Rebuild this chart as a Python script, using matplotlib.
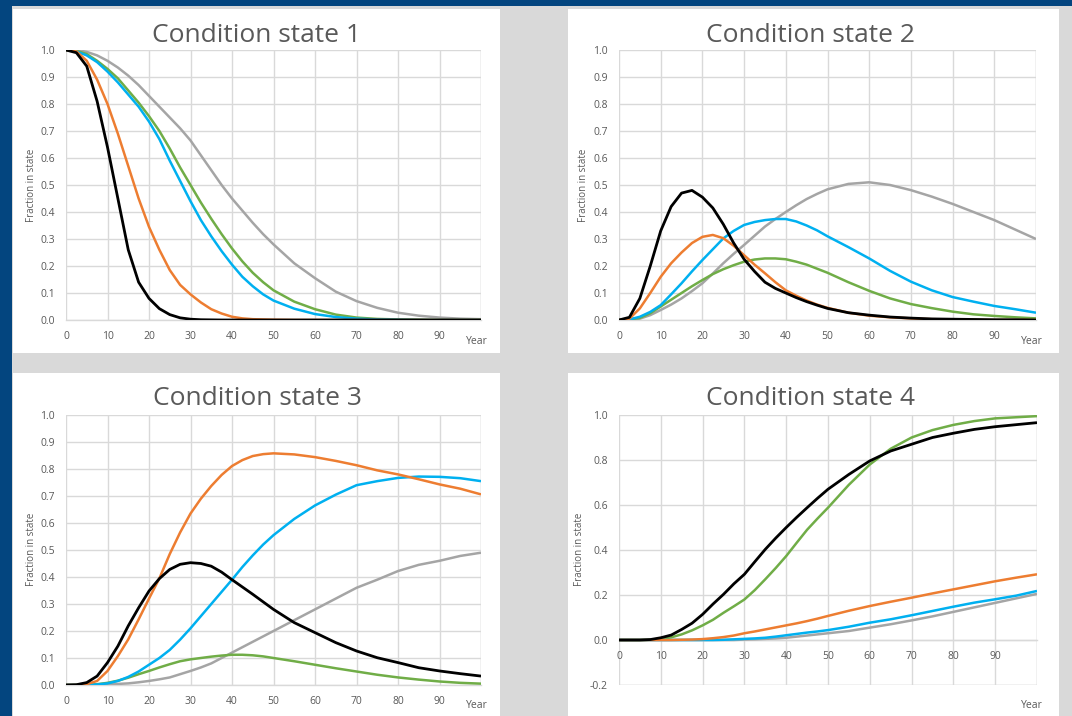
import numpy as np
import matplotlib.pyplot as plt
from matplotlib.patches import Rectangle

plt.rcParams['font.family'] = ['Open Sans', 'DejaVu Sans']

# Years (shared x axis)
years = [0, 2.5, 5, 7.5, 10, 12.5, 15, 17.5, 20, 22.5, 25, 27.5, 30,
         32.5, 35, 37.5, 40, 42.5, 45, 47.5, 50,
         55, 60, 65, 70, 75, 80, 85, 90, 95, 100]

# Condition state 1
cs1_black = [1.0, 0.99, 0.94, 0.81, 0.64, 0.45, 0.26, 0.14, 0.08, 0.042, 0.02, 0.008, 0.003,
             0.001, 0.0005, 0, 0, 0, 0, 0, 0,
             0, 0, 0, 0, 0, 0, 0, 0, 0, 0]
cs1_orange = [1.0, 0.995, 0.96, 0.89, 0.80, 0.69, 0.57, 0.45, 0.345, 0.26, 0.185, 0.13, 0.095,
              0.065, 0.04, 0.024, 0.012, 0.006, 0.003, 0.002, 0.001,
              0, 0, 0, 0, 0, 0, 0, 0, 0, 0]
cs1_blue = [1.0, 0.995, 0.98, 0.955, 0.92, 0.88, 0.835, 0.79, 0.735, 0.67, 0.59, 0.515, 0.44,
            0.37, 0.31, 0.255, 0.205, 0.16, 0.125, 0.095, 0.072,
            0.042, 0.022, 0.011, 0.005, 0.002, 0.001, 0, 0, 0, 0]
cs1_green = [1.0, 0.997, 0.985, 0.96, 0.93, 0.895, 0.85, 0.805, 0.755, 0.70, 0.635, 0.565, 0.50,
             0.435, 0.375, 0.318, 0.265, 0.217, 0.175, 0.14, 0.11,
             0.068, 0.04, 0.02, 0.009, 0.004, 0.002, 0.001, 0, 0, 0]
cs1_gray = [1.0, 1.0, 0.993, 0.98, 0.96, 0.935, 0.905, 0.87, 0.83, 0.79, 0.75, 0.71, 0.665,
            0.61, 0.555, 0.50, 0.45, 0.405, 0.36, 0.318, 0.28,
            0.21, 0.155, 0.105, 0.07, 0.045, 0.027, 0.016, 0.009, 0.005, 0.003]

# Condition state 2
cs2_black = [0, 0.01, 0.08, 0.2, 0.33, 0.42, 0.47, 0.48, 0.455, 0.415, 0.355, 0.285, 0.225,
             0.18, 0.14, 0.117, 0.10, 0.083, 0.068, 0.055, 0.043,
             0.027, 0.018, 0.011, 0.007, 0.004, 0.003, 0.002, 0.001, 0.001, 0]
cs2_orange = [0, 0.005, 0.043, 0.1, 0.16, 0.21, 0.25, 0.285, 0.308, 0.315, 0.303, 0.275, 0.24,
              0.205, 0.173, 0.14, 0.11, 0.09, 0.072, 0.057, 0.045,
              0.027, 0.016, 0.01, 0.006, 0.003, 0.002, 0.001, 0, 0, 0]
cs2_blue = [0, 0.002, 0.012, 0.03, 0.055, 0.095, 0.136, 0.18, 0.222, 0.262, 0.302, 0.33, 0.352,
            0.363, 0.37, 0.374, 0.374, 0.365, 0.35, 0.332, 0.31,
            0.27, 0.228, 0.182, 0.142, 0.11, 0.085, 0.068, 0.052, 0.04, 0.027]
cs2_green = [0, 0.002, 0.008, 0.025, 0.05, 0.075, 0.1, 0.125, 0.148, 0.17, 0.188, 0.203, 0.216,
             0.224, 0.228, 0.228, 0.225, 0.216, 0.205, 0.19, 0.175,
             0.14, 0.108, 0.08, 0.059, 0.044, 0.031, 0.021, 0.015, 0.01, 0.006]
cs2_gray = [0, 0.001, 0.005, 0.018, 0.037, 0.057, 0.08, 0.107, 0.136, 0.172, 0.21, 0.245, 0.278,
            0.312, 0.346, 0.374, 0.40, 0.425, 0.448, 0.467, 0.484,
            0.504, 0.51, 0.50, 0.481, 0.457, 0.43, 0.40, 0.37, 0.335, 0.30]

# Condition state 3
cs3_black = [0, 0.001, 0.009, 0.033, 0.083, 0.144, 0.219, 0.286, 0.348, 0.394, 0.428, 0.447, 0.453,
             0.45, 0.44, 0.418, 0.39, 0.363, 0.336, 0.308, 0.28,
             0.231, 0.194, 0.157, 0.126, 0.101, 0.083, 0.064, 0.052, 0.042, 0.033]
cs3_orange = [0, 0, 0.003, 0.015, 0.052, 0.107, 0.169, 0.243, 0.32, 0.395, 0.485, 0.565, 0.635,
              0.69, 0.737, 0.778, 0.811, 0.833, 0.848, 0.855, 0.858,
              0.854, 0.844, 0.83, 0.814, 0.795, 0.78, 0.762, 0.743, 0.727, 0.706]
cs3_blue = [0, 0, 0.001, 0.002, 0.006, 0.015, 0.03, 0.05, 0.075, 0.1, 0.13, 0.168, 0.21,
            0.255, 0.30, 0.345, 0.39, 0.437, 0.48, 0.52, 0.555,
            0.615, 0.665, 0.705, 0.74, 0.755, 0.767, 0.772, 0.771, 0.766, 0.755]
cs3_green = [0, 0, 0.001, 0.003, 0.008, 0.016, 0.027, 0.04, 0.052, 0.065, 0.077, 0.088, 0.095,
             0.1, 0.105, 0.109, 0.112, 0.112, 0.11, 0.106, 0.10,
             0.088, 0.075, 0.062, 0.05, 0.038, 0.028, 0.02, 0.013, 0.008, 0.005]
cs3_gray = [0, 0, 0, 0.001, 0.002, 0.004, 0.006, 0.01, 0.015, 0.021, 0.028, 0.04, 0.052,
            0.065, 0.08, 0.1, 0.12, 0.14, 0.16, 0.18, 0.2,
            0.24, 0.28, 0.32, 0.36, 0.39, 0.422, 0.445, 0.46, 0.478, 0.49]

# Condition state 4
cs4_black = [0, 0, 0, 0.002, 0.01, 0.022, 0.047, 0.075, 0.114, 0.16, 0.203, 0.25, 0.292,
             0.348, 0.403, 0.453, 0.50, 0.545, 0.588, 0.63, 0.67,
             0.736, 0.796, 0.84, 0.87, 0.9, 0.919, 0.936, 0.948, 0.957, 0.966]
cs4_orange = [0, 0, 0, 0, 0, 0, 0.001, 0.002, 0.004, 0.008, 0.013, 0.02, 0.03,
              0.038, 0.047, 0.056, 0.065, 0.074, 0.084, 0.095, 0.107,
              0.13, 0.151, 0.17, 0.188, 0.207, 0.225, 0.243, 0.261, 0.277, 0.292]
cs4_blue = [0, 0, 0, 0, 0, 0, 0, 0, 0, 0, 0.001, 0.003, 0.005,
            0.007, 0.01, 0.015, 0.021, 0.027, 0.033, 0.038, 0.044,
            0.059, 0.077, 0.092, 0.11, 0.129, 0.148, 0.166, 0.181, 0.197, 0.218]
cs4_green = [0, 0, 0, 0.001, 0.004, 0.012, 0.025, 0.043, 0.065, 0.09, 0.121, 0.15, 0.18,
             0.222, 0.27, 0.32, 0.373, 0.432, 0.49, 0.54, 0.588,
             0.69, 0.78, 0.85, 0.90, 0.933, 0.956, 0.973, 0.985, 0.99, 0.995]
cs4_gray = [0, 0, 0, 0, 0, 0, 0, 0, 0, 0, 0, 0, 0.002,
            0.003, 0.005, 0.007, 0.01, 0.015, 0.02, 0.025, 0.03,
            0.04, 0.055, 0.07, 0.087, 0.105, 0.125, 0.145, 0.165, 0.185, 0.205]

titles = ['Condition state 1', 'Condition state 2', 'Condition state 3', 'Condition state 4']
colors = {'gray': '#a5a5a5', 'green': '#70ad47', 'blue': '#00b0f0',
          'orange': '#ed7d31', 'black': '#000000'}
panels = [
    {'gray': cs1_gray, 'green': cs1_green, 'blue': cs1_blue, 'orange': cs1_orange, 'black': cs1_black},
    {'gray': cs2_gray, 'green': cs2_green, 'blue': cs2_blue, 'orange': cs2_orange, 'black': cs2_black},
    {'gray': cs3_gray, 'green': cs3_green, 'blue': cs3_blue, 'orange': cs3_orange, 'black': cs3_black},
    {'gray': cs4_gray, 'green': cs4_green, 'blue': cs4_blue, 'orange': cs4_orange, 'black': cs4_black},
]

W, H = 1072, 716
fig = plt.figure(figsize=(W / 100, H / 100), dpi=100)
fig.patch.set_facecolor('#03457f')


def box(x0, y0, x1, y1):
    # pixel box (top-left origin) -> figure fraction rect
    return [x0 / W, 1 - y1 / H, (x1 - x0) / W, (y1 - y0) / H]


# gray slide background and white chart panels (kept behind the axes)
fig.add_artist(Rectangle((12 / W, 0), 1, 1 - 6 / H, transform=fig.transFigure,
                         facecolor='#d9d9d9', edgecolor='none', zorder=-10))
panel_boxes = [(13, 9, 500, 353), (568, 9, 1059, 353), (13, 373, 500, 716), (568, 373, 1059, 716)]
for (x0, y0, x1, y1) in panel_boxes:
    fig.add_artist(Rectangle((x0 / W, 1 - y1 / H), (x1 - x0) / W, (y1 - y0) / H,
                             transform=fig.transFigure, facecolor='white',
                             edgecolor='none', zorder=-5))

plot_boxes = [(66, 50, 481, 320), (619, 50, 1036, 320), (66, 415, 481, 685), (619, 415, 1037, 685)]
title_pos = [(257, 35), (811, 35), (257, 399), (811, 398)]
ylab_pos = [(31, 185), (583, 185), (31, 549), (579, 549)]
year_pos = [(477, 342), (1032, 342), (477, 706), (1032, 706)]

txt = '#595959'
grid_c = '#d9d9d9'

for i, data in enumerate(panels):
    ax = fig.add_axes(box(*plot_boxes[i]))
    ax.set_facecolor('none')
    for name in ['gray', 'green', 'blue', 'orange', 'black']:
        lw = 2.0 if name == 'black' else 1.8
        ax.plot(years, data[name], color=colors[name], lw=lw,
                solid_capstyle='butt', solid_joinstyle='round', zorder=3)
    ax.set_xlim(0, 100)
    ax.set_xticks(np.arange(0, 101, 10))
    ax.set_xticklabels([str(v) for v in range(0, 100, 10)] + [''])
    if i == 3:
        ax.set_ylim(-0.2, 1.0)
        ax.set_yticks(np.arange(-0.2, 1.01, 0.2))
        ax.set_yticklabels(['-0.2', '0.0', '0.2', '0.4', '0.6', '0.8', '1.0'])
        ax.spines['bottom'].set_position(('data', 0))
    else:
        ax.set_ylim(0, 1.0)
        ax.set_yticks(np.arange(0, 1.01, 0.1))
        ax.set_yticklabels(['%.1f' % v for v in np.arange(0, 1.01, 0.1)])
    for s in ['top', 'right', 'left']:
        ax.spines[s].set_visible(False)
    ax.spines['bottom'].set_color(grid_c)
    ax.spines['bottom'].set_linewidth(1.0)
    ax.grid(True, color=grid_c, lw=1.0, zorder=0)
    ax.set_axisbelow(True)
    ax.tick_params(length=0, labelsize=7.5, labelcolor=txt)
    ax.tick_params(axis='x', pad=8)
    ax.tick_params(axis='y', pad=8)
    if i == 3:
        ax.axhline(-0.2, color=grid_c, lw=1.0, zorder=0)
    ax.axvline(100, color=grid_c, lw=1.0, zorder=0)

    tx, ty = title_pos[i]
    fig.text(tx / W, 1 - ty / H, titles[i], ha='center', va='center',
             fontsize=19, color=txt)
    lx, ly = ylab_pos[i]
    fig.text(lx / W, 1 - ly / H, 'Fraction in state', ha='center', va='center',
             rotation=90, fontsize=7, color=txt)
    yx, yy = year_pos[i]
    fig.text(yx / W, 1 - yy / H, 'Year', ha='center', va='center',
             fontsize=7.5, color=txt)

fig.savefig('out.png', dpi=100, facecolor=fig.get_facecolor())
